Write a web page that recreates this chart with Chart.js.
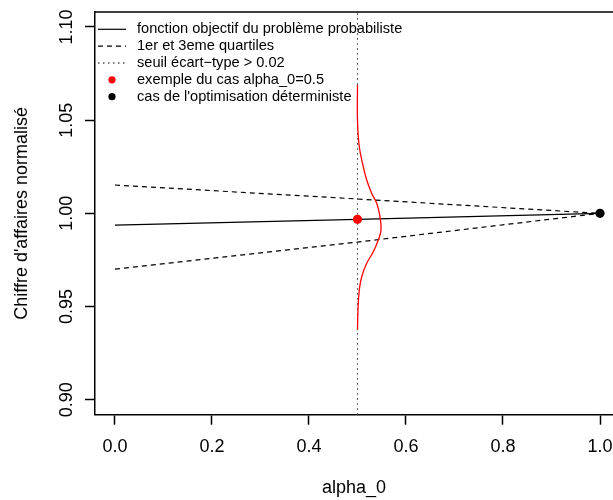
<!DOCTYPE html>
<html>
<head>
<meta charset="utf-8">
<script src="https://cdn.jsdelivr.net/npm/chart.js@4.4.1/dist/chart.umd.min.js"></script>
<style>
  html, body { margin:0; padding:0; background:#fff; }
  canvas { display:block; }
</style>
</head>
<body>
<canvas id="chart" width="613" height="500"></canvas>
<script>
// ─── Data ────────────────────────────────────────────────────────────────────
const xTicks = [0, 0.2, 0.4, 0.6, 0.8, 1.0];
const yTicks = [0.90, 0.95, 1.00, 1.05, 1.10];

const alpha      = [0, 0.5, 1];
const objective  = [0.9937, 0.9968, 1.0000];
const quartile1  = [0.9701, 0.9846, 1.0000];
const quartile3  = [1.0152, 1.0077, 1.0000];

const thresholdAlpha = [0.5, 0.5];
const thresholdY     = [0.892, 1.108];

// density of the example case, drawn sideways around alpha_0 = 0.5
const densX = [0.5000, 0.5000, 0.5037, 0.5120, 0.5190, 0.5293, 0.5396, 0.5464, 0.5485, 0.5429, 0.5326, 0.5190, 0.5087, 0.5037, 0.5010, 0.5000];
const densY = [1.0689, 1.0501, 1.0357, 1.0250, 1.0179, 1.0107, 1.0054, 0.9982, 0.9910, 0.9857, 0.9794, 0.9732, 0.9660, 0.9589, 0.9482, 0.9375];

const exampleAlpha = [0.5];
const exampleValue = [0.9968];
const detAlpha     = [1.0];
const detValue     = [1.0000];

const legendLabels = [
  'fonction objectif du problème probabiliste',
  '1er et 3eme quartiles',
  'seuil écart\u2212type > 0.02',
  'exemple du cas alpha_0=0.5',
  "cas de l'optimisation déterministe",
];

// ─── Helpers ─────────────────────────────────────────────────────────────────
const FONT = "'Liberation Sans', Arial, sans-serif";
const pts = (xs, ys) => xs.map((x, i) => ({ x, y: ys[i] }));
const DASH = [5, 4];
const DOT  = [1.5, 3.5];

// legend drawn R-style (no box, top-left)
const legendPlugin = {
  id: 'rLegend',
  afterDraw(chart) {
    const ctx = chart.ctx;
    const x0 = 98, x1 = 126, xp = 112, xt = 137, y0 = 29.3, step = 16.85;
    const kinds = [
      { line: [], color: '#000' },
      { line: DASH, color: '#000' },
      { line: DOT, color: '#000' },
      { point: '#ff0000' },
      { point: '#000' },
    ];
    ctx.save();
    ctx.font = '14.6px ' + FONT;
    ctx.textBaseline = 'middle';
    kinds.forEach((k, i) => {
      const y = y0 + i * step;
      if (k.point) {
        ctx.fillStyle = k.point;
        ctx.beginPath(); ctx.arc(xp, y, 3.6, 0, Math.PI * 2); ctx.fill();
      } else {
        ctx.strokeStyle = k.color; ctx.lineWidth = 1.2; ctx.setLineDash(k.line);
        ctx.beginPath(); ctx.moveTo(x0, y); ctx.lineTo(x1, y); ctx.stroke();
        ctx.setLineDash([]);
      }
      ctx.fillStyle = '#000';
      ctx.fillText(legendLabels[i], xt, y);
    });
    ctx.restore();
  }
};

// top edge of the plot box
const boxPlugin = {
  id: 'box',
  afterDraw(chart) {
    const { ctx, chartArea: a } = chart;
    ctx.save();
    ctx.strokeStyle = '#000'; ctx.lineWidth = 1.5;
    ctx.beginPath(); ctx.moveTo(a.left, a.top); ctx.lineTo(a.right, a.top); ctx.stroke();
    ctx.restore();
  }
};

const axisGrid = { display:true, drawOnChartArea:false, drawTicks:true, tickLength:10, tickColor:'#000', tickWidth:1.5 };
const axisBorder = { display:true, color:'#000', width:1.5 };

new Chart(document.getElementById('chart'), {
  type: 'scatter',
  data: { datasets: [
    { label:'seuil', data:pts(thresholdAlpha, thresholdY), showLine:true, borderColor:'#333', borderWidth:1, borderDash:DOT, pointRadius:0, order:5 },
    { label:'q1', data:pts(alpha, quartile1), showLine:true, borderColor:'#000', borderWidth:1.2, borderDash:DASH, pointRadius:0, order:4 },
    { label:'q3', data:pts(alpha, quartile3), showLine:true, borderColor:'#000', borderWidth:1.2, borderDash:DASH, pointRadius:0, order:4 },
    { label:'objectif', data:pts(alpha, objective), showLine:true, borderColor:'#000', borderWidth:1.3, pointRadius:0, order:3 },
    { label:'densite', data:pts(densX, densY), showLine:true, borderColor:'#ff0000', borderWidth:1.3, pointRadius:0, tension:0.4, order:2 },
    { label:'exemple', data:pts(exampleAlpha, exampleValue), pointRadius:4.6, pointBackgroundColor:'#ff0000', pointBorderWidth:0, order:1 },
    { label:'deterministe', data:pts(detAlpha, detValue), pointRadius:4.6, pointBackgroundColor:'#000', pointBorderWidth:0, order:0 },
  ]},
  options: {
    responsive:false, animation:false, devicePixelRatio:1,
    layout:{ autoPadding:false, padding:{ top:12, right:0, left:0, bottom:0 } },
    plugins:{ legend:{display:false}, tooltip:{enabled:false} },
    scales:{
      x:{
        type:'linear', min:-0.0412, max:1.0268,
        afterBuildTicks: s => { s.ticks = xTicks.map(v => ({ value:v })); },
        afterFit: s => { s.height = 85.3; s.paddingLeft = 0; s.paddingRight = 0; },
        ticks:{ font:{ family:FONT, size:18 }, color:'#000', padding:12, maxRotation:0, autoSkip:false, callback:v => v.toFixed(1) },
        grid:axisGrid, border:axisBorder,
        title:{ display:true, text:'alpha_0', color:'#000', font:{ family:FONT, size:18 }, padding:{ top:0, bottom:1 } },
      },
      y:{
        type:'linear', min:0.892, max:1.108,
        afterBuildTicks: s => { s.ticks = yTicks.map(v => ({ value:v })); },
        afterFit: s => { s.width = 95; s.paddingTop = 0; s.paddingBottom = 0; },
        ticks:{ font:{ family:FONT, size:18 }, color:'#000', padding:0, minRotation:90, maxRotation:90, crossAlign:'center', autoSkip:false, callback:v => v.toFixed(2) },
        grid:axisGrid, border:axisBorder,
        title:{ display:true, text:"Chiffre d'affaires normalisé", color:'#000', font:{ family:FONT, size:18 }, padding:{ top:11, bottom:0 } },
      },
    },
  },
  plugins:[legendPlugin, boxPlugin],
});
</script>
</body>
</html>
